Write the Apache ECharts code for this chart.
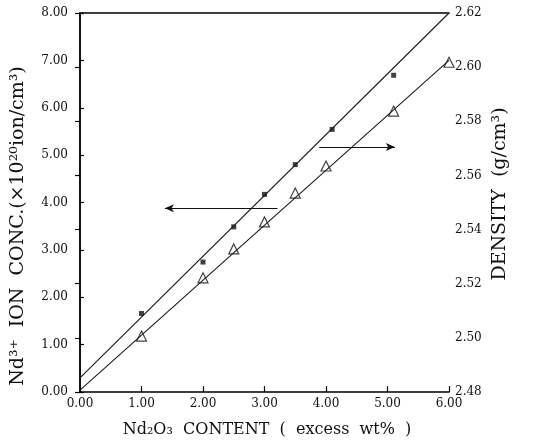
<!DOCTYPE html>
<html><head><meta charset="utf-8">
<script src="https://cdn.jsdelivr.net/npm/echarts@6/dist/echarts.min.js"></script>
<style>html,body{margin:0;padding:0;background:#fff}#c{width:534px;height:444px}</style>
</head><body><div id="c"></div>
<script>
// Ion concentration (left axis) - open triangles
var ionX = [1.0, 2.0, 2.5, 3.0, 3.5, 4.0, 5.1, 6.0];
var ionY = [1.18, 2.41, 3.02, 3.59, 4.20, 4.77, 5.93, 6.96];
// Density (right axis) - filled squares
var densX = [1.0, 2.0, 2.5, 3.0, 3.5, 4.1, 5.1];
var densY = [2.509, 2.528, 2.541, 2.553, 2.564, 2.577, 2.597];
// fitted straight lines
var fitX = [0, 6];
var ionFit = [0.04, 7.0];
var densFit = [2.4852, 2.62];
// arrows (x from, x to, y)
var arrowIon = [3.21, 1.38, 3.88];
var arrowDens = [3.89, 5.12, 2.5705];
// tick settings
var xTicks = [0, 1, 2, 3, 4, 5, 6];
var leftTicks = [0, 1, 2, 3, 4, 5, 6, 7, 8];
var rightTicks = [2.48, 2.50, 2.52, 2.54, 2.56, 2.58, 2.60, 2.62];
// titles
var xTitle = 'Nd\u2082O\u2083  CONTENT  (  excess  wt%  )';
var leftTitle = 'Nd\u00b3\u207a  ION  CONC.(\u00d710\u00b2\u2070ion/cm\u00b3)';
var rightTitle = 'DENSITY  (g/cm\u00b3)';

var serif = '"DejaVu Serif", "Liberation Serif", serif';
function pairs(xs, ys){ return xs.map(function(x,i){return [x, ys[i]];}); }

var chart = echarts.init(document.getElementById('c'), null, {renderer:'canvas'});
chart.setOption({
  animation: false,
  grid: {left: 80, right: 85, top: 13, bottom: 52},
  graphic: [
    {type: 'text', x: 267, y: 430, style: {text: xTitle, font: '16px ' + serif, fill: '#111', align: 'center', verticalAlign: 'middle'}},
    {type: 'text', x: 18, y: 226, rotation: Math.PI / 2, style: {text: leftTitle, font: '19px ' + serif, fill: '#111', align: 'center', verticalAlign: 'middle'}},
    {type: 'text', x: 500, y: 194, rotation: Math.PI / 2, style: {text: rightTitle, font: '19px ' + serif, fill: '#111', align: 'center', verticalAlign: 'middle'}}
  ],
  xAxis: [{
    type: 'value', min: xTicks[0], max: xTicks[xTicks.length-1], interval: 1,
    axisLine: {lineStyle: {color: '#000', width: 1.5}},
    axisTick: {inside: true, length: 6, lineStyle: {color: '#000', width: 1.2}},
    axisLabel: {fontFamily: serif, fontSize: 12, color: '#111', margin: 6,
      formatter: function(v){return v.toFixed(2);}},
    splitLine: {show: false}
  }, {
    type: 'value', position: 'top', min: 0, max: 6,
    axisLine: {show: true, lineStyle: {color: '#000', width: 1.5}},
    axisTick: {show: false}, axisLabel: {show: false}, splitLine: {show: false}
  }],
  yAxis: [{
    type: 'value', min: leftTicks[0], max: leftTicks[leftTicks.length-1], interval: 1,
    axisLine: {show: true, lineStyle: {color: '#000', width: 1.5}},
    axisTick: {inside: true, length: 4, lineStyle: {color: '#000', width: 1.2}},
    axisLabel: {fontFamily: serif, fontSize: 12, color: '#111', margin: 12,
      formatter: function(v){return v.toFixed(2);}},
    splitLine: {show: false}
  }, {
    type: 'value', position: 'right', min: rightTicks[0], max: rightTicks[rightTicks.length-1], interval: 0.02,
    axisLine: {show: true, lineStyle: {color: '#000', width: 1.5}},
    axisTick: {inside: true, length: 5, lineStyle: {color: '#000', width: 1.2}},
    axisLabel: {fontFamily: serif, fontSize: 12, color: '#111', margin: 6,
      formatter: function(v){return v.toFixed(2);}},
    splitLine: {show: false}
  }],
  series: [{
    type: 'line', yAxisIndex: 0, data: pairs(fitX, ionFit), symbol: 'none',
    lineStyle: {color: '#1a1a1a', width: 1.1}, silent: true,
    markLine: {silent: true, symbol: ['none', 'arrow'], symbolSize: [6, 9],
      lineStyle: {color: '#111', width: 1.1, type: 'solid'}, label: {show: false},
      data: [[{coord: [arrowIon[0], arrowIon[2]]}, {coord: [arrowIon[1], arrowIon[2]]}]]}
  }, {
    type: 'line', yAxisIndex: 1, data: pairs(fitX, densFit), symbol: 'none',
    lineStyle: {color: '#1a1a1a', width: 1.1}, silent: true,
    markLine: {silent: true, symbol: ['none', 'arrow'], symbolSize: [6, 9],
      lineStyle: {color: '#111', width: 1.1, type: 'solid'}, label: {show: false},
      data: [[{coord: [arrowDens[0], arrowDens[2]]}, {coord: [arrowDens[1], arrowDens[2]]}]]}
  }, {
    type: 'scatter', yAxisIndex: 0, data: pairs(ionX, ionY), symbol: 'triangle', symbolSize: 10,
    itemStyle: {color: '#fff', borderColor: '#111', borderWidth: 1.2}
  }, {
    type: 'scatter', yAxisIndex: 1, data: pairs(densX, densY), symbol: 'rect', symbolSize: 5,
    itemStyle: {color: '#111'}
  }]
});
</script></body></html>
